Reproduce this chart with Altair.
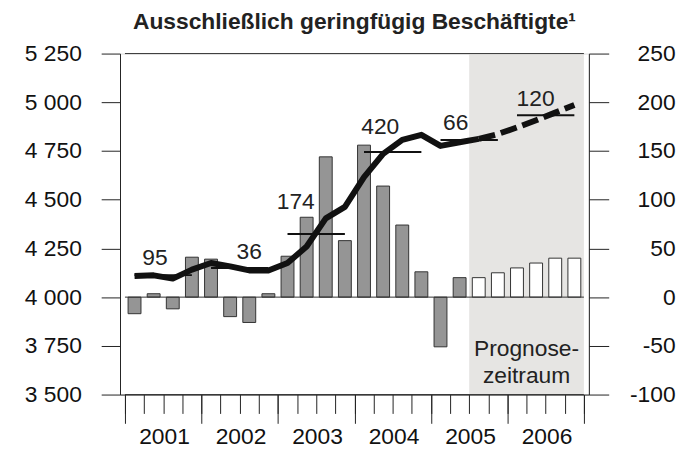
import altair as alt
import pandas as pd

FONT = "Liberation Sans"

# ---- data ----
quarters = ["2001Q1", "2001Q2", "2001Q3", "2001Q4",
            "2002Q1", "2002Q2", "2002Q3", "2002Q4",
            "2003Q1", "2003Q2", "2003Q3", "2003Q4",
            "2004Q1", "2004Q2", "2004Q3", "2004Q4",
            "2005Q1", "2005Q2", "2005Q3", "2005Q4",
            "2006Q1", "2006Q2", "2006Q3", "2006Q4"]
# change vs. previous quarter, thousands (right axis)
change = [-17, 3.5, -12, 41, 39, -20, -26, 3.5, 42, 82, 144, 58,
          156, 114, 74, 26, -51, 20, 20, 25, 30, 35, 40, 40]
# level, thousands (left axis)
level = [4108, 4112, 4095, 4141, 4175, 4158, 4137, 4137, 4175, 4260, 4404, 4463,
         4616, 4735, 4807, 4833, 4776, 4795, 4812, 4837, 4871, 4908, 4947, 4986]
first_forecast = 18  # index of 2005Q3

years = [2001, 2002, 2003, 2004, 2005, 2006]
year_avg = [4113, 4150, 4324, 4745, 4806, 4934]
year_label = ["95", "36", "174", "420", "66", "120"]
label_x = [1.57, 6.5, 8.93, 13.35, 17.3, 21.47]
label_y = [4202, 4233, 4487, 4875, 4895, 5017]

left_ticks = [3500, 3750, 4000, 4250, 4500, 4750, 5000, 5250]
right_ticks = [-100, -50, 0, 50, 100, 150, 200, 250]
grid_vals = [3500, 4000, 5250]
year_ticks = [0, 4, 8, 12, 16, 20, 24]
quarter_ticks = list(range(25))

prog_text = ["Prognose-", "zeitraum"]
prog_y = [-53, -81]
prog_x = 21.0

# ---- tables ----
n = len(quarters)
df = pd.DataFrame({
    "quarter": quarters,
    "pos": [i + 0.5 for i in range(n)],
    "change": change,
    "level": level,
    "forecast": [i >= first_forecast for i in range(n)],
})
solid = df.iloc[: first_forecast + 1]
dashed = df.iloc[first_forecast:]
avg_df = pd.DataFrame({
    "year": years,
    "x1": [(y - 2001) * 4 + 0.5 for y in years],
    "x2": [(y - 2001) * 4 + 3.5 for y in years],
    "avg": year_avg,
})
lab_df = pd.DataFrame({"t": year_label, "x": label_x, "y": label_y})
grid_df = pd.DataFrame({"v": grid_vals})
shade_df = pd.DataFrame({"x1": [first_forecast], "x2": [n], "y1": [-100], "y2": [250]})
prog_df = pd.DataFrame({"t": prog_text, "x": [prog_x] * 2, "y": prog_y})

# ---- scales / axes ----
xscale = alt.Scale(domain=[0, n], nice=False, zero=False)
# quarter ticks (short, no labels)
xaxis_q = alt.Axis(
    orient="bottom", values=quarter_ticks, tickSize=19, tickColor="#222", tickWidth=1,
    labels=False, domain=True, domainColor="#222", grid=False, title=None,
)
# year ticks (long) with year labels centred in each year
xaxis_y = alt.Axis(
    orient="bottom", values=year_ticks, tickSize=29, tickColor="#222", tickWidth=1,
    labelExpr="datum.value < 24 ? '' + (2001 + datum.value / 4) : ''",
    labelOffset=39.4, labelPadding=2, labelOverlap=False, labelFlush=False,
    labelFont=FONT, labelFontSize=23, labelColor="#111",
    domain=False, grid=False, title=None,
)
lscale = alt.Scale(domain=[3500, 5250], nice=False, zero=False)
laxis = alt.Axis(
    orient="left", values=left_ticks, tickSize=19, tickColor="#222",
    labelPadding=20, labelFont=FONT, labelFontSize=23, labelColor="#111",
    labelExpr="replace(format(datum.value, ','), ',', ' ')",
    domainColor="#222", grid=False, title=None,
)
rscale = alt.Scale(domain=[-100, 250], nice=False, zero=False)
raxis = alt.Axis(
    orient="right", values=right_ticks, tickSize=20, tickColor="#222",
    labelPadding=67, labelAlign="right", labelFont=FONT, labelFontSize=23,
    labelExpr="'' + datum.value",
    labelColor="#111", domainColor="#222", grid=False, title=None,
)

XQ = lambda f: alt.X(f, type="quantitative", scale=xscale, axis=xaxis_q)
XY = lambda f: alt.X(f, type="quantitative", scale=xscale, axis=xaxis_y)
RY = lambda f: alt.Y(f, type="quantitative", scale=rscale, axis=raxis)
LY = lambda f: alt.Y(f, type="quantitative", scale=lscale, axis=laxis)

# ---- right-axis group: shade, bars, forecast text ----
shade = alt.Chart(shade_df).mark_rect(color="#e6e5e3").encode(
    x=XQ("x1"), x2="x2", y=RY("y1"), y2="y2",
)
bars = alt.Chart(df).mark_bar(size=13, stroke="#333333", strokeWidth=1).encode(
    x=XQ("pos"),
    y=RY("change"),
    y2=alt.datum(0),
    fill=alt.condition("datum.forecast", alt.value("#ffffff"), alt.value("#959595")),
)
prog = alt.Chart(prog_df).mark_text(
    font=FONT, fontSize=23, color="#222", align="center", baseline="middle"
).encode(x=XQ("x"), y=RY("y"), text="t")
right_group = alt.layer(shade, bars, prog)

# ---- left-axis group: grid rules, averages, level line, labels ----
grid = alt.Chart(grid_df).mark_rule(color="#333", strokeWidth=1).encode(
    y=LY("v"), x=alt.datum(0, scale=xscale, axis=xaxis_y), x2=alt.datum(n)
)
avg = alt.Chart(avg_df).mark_rule(color="#111", strokeWidth=2).encode(
    x=XY("x1"), x2="x2", y=LY("avg")
)
line_solid = alt.Chart(solid).mark_line(
    color="#111", strokeWidth=6, strokeJoin="round", strokeCap="butt"
).encode(x=XY("pos"), y=LY("level"))
line_dash = alt.Chart(dashed).mark_line(
    color="#111", strokeWidth=6, strokeDash=[17, 6], strokeCap="butt"
).encode(x=XY("pos"), y=LY("level"))
labels = alt.Chart(lab_df).mark_text(
    font=FONT, fontSize=23, color="#222", align="center", baseline="middle"
).encode(x=XY("x"), y=LY("y"), text="t")
left_group = alt.layer(grid, avg, line_solid, line_dash, labels)

chart = alt.layer(right_group, left_group).resolve_scale(
    y="independent"
).resolve_axis(x="independent").properties(
    width=473, height=344,
    padding={"left": 113, "top": 44, "right": 100, "bottom": 60},
    autosize="none",
    title=alt.TitleParams(
        text="Ausschließlich geringfügig Beschäftigte¹",
        font=FONT, fontSize=23, fontWeight="bold", color="#222",
        anchor="middle", frame="group", baseline="alphabetic", offset=15, dy=24,
    ),
).configure_view(stroke=None).configure(background="white")

chart.save("out.html", embed_options={"renderer": "svg", "actions": False})
